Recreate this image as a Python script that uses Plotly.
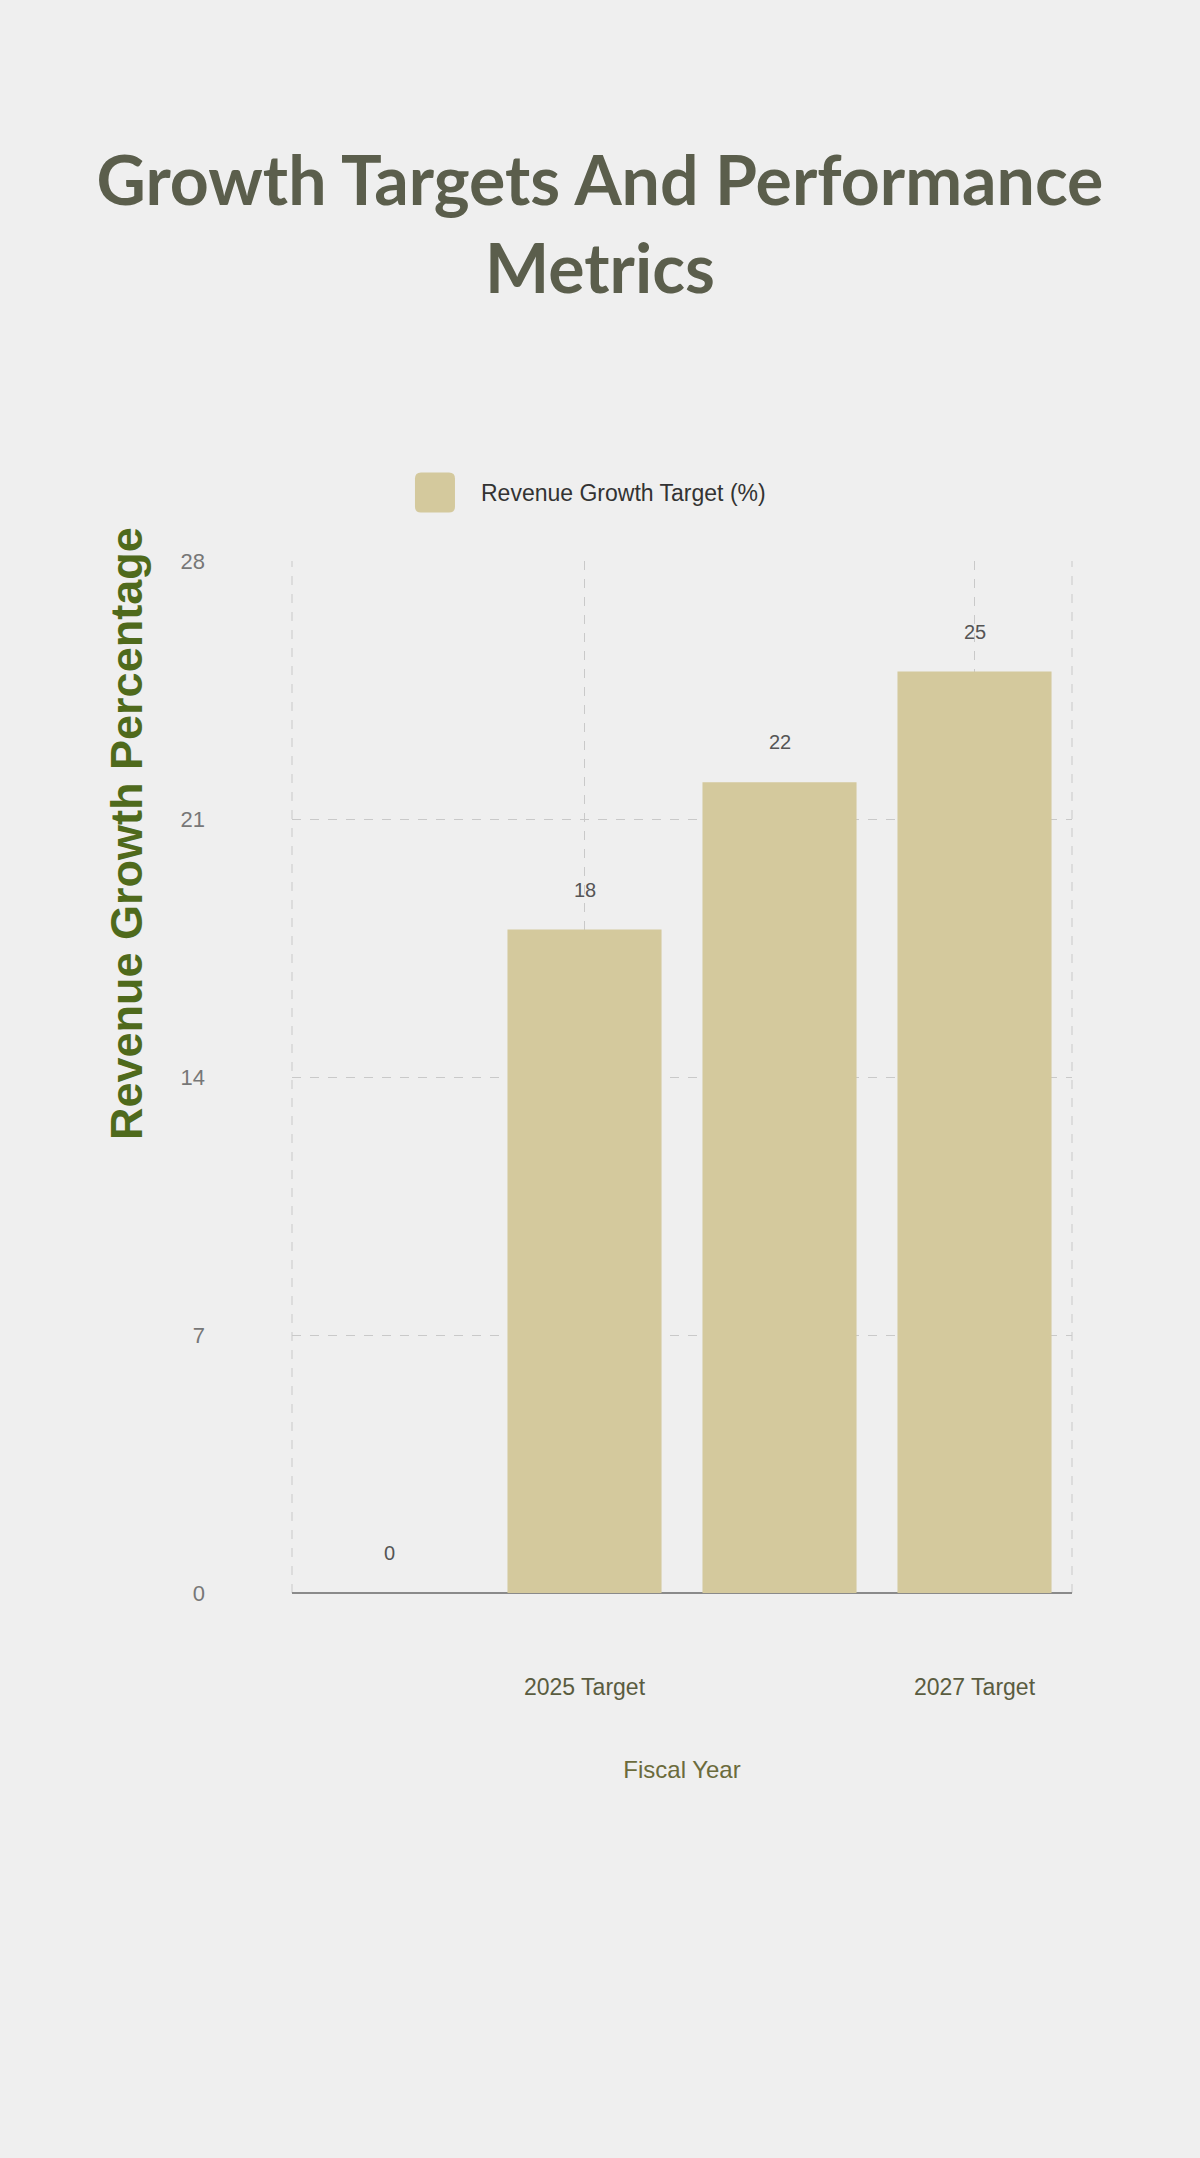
import plotly.graph_objects as go

# -----------------------------
# Data
# -----------------------------
years = ["2024 Baseline", "2025 Target", "2026 Target", "2027 Target"]
growth_target = [0, 18, 22, 25]
shown_years = ["2025 Target", "2027 Target"]
y_ticks = [0, 7, 14, 21, 28]

bar_color = "#d4c99d"
grid_color = "#c9c9c9"
base_font = "Liberation Sans, Arial"

fig = go.Figure()
fig.add_trace(go.Bar(
    x=years,
    y=growth_target,
    marker_color=bar_color,
    marker_line_width=0,
    name="Revenue Growth Target (%)",
    showlegend=False,
))

# value labels sit a bit above each bar
for yr, val in zip(years, growth_target):
    fig.add_annotation(
        x=yr, y=val, text=str(val), showarrow=False,
        yshift=40, font=dict(family=base_font, size=20, color="#555555"),
    )

# custom legend (big rounded swatch)
fig.add_shape(
    type="path", xref="paper", yref="paper",
    xsizemode="pixel", ysizemode="pixel",
    xanchor=0.1833, yanchor=1.0663,
    path="M -14,-20 L 14,-20 Q 20,-20 20,-14 L 20,14 Q 20,20 14,20 L -14,20 "
         "Q -20,20 -20,14 L -20,-14 Q -20,-20 -14,-20 Z",
    fillcolor=bar_color, line_width=0,
)
fig.add_annotation(
    xref="paper", yref="paper", x=0.2397, y=1.0663,
    xanchor="left", yanchor="middle", showarrow=False,
    text="Revenue Growth Target (%)",
    font=dict(family=base_font, size=23, color="#333333"),
)

# y axis title (sits above the axis centre in the original)
fig.add_annotation(
    xref="paper", yref="paper", x=-0.2115, y=0.7355,
    xanchor="center", yanchor="middle", showarrow=False, textangle=-90,
    text="<b>Revenue Growth Percentage</b>",
    font=dict(family=base_font, size=45, color="#4f6a1c"),
)

# dashed plot borders left / right
for xb in [0, 1]:
    fig.add_shape(type="line", xref="paper", yref="paper", x0=xb, x1=xb, y0=0, y1=1,
                  line=dict(color=grid_color, width=1, dash="dash"), layer="below")

fig.update_layout(
    width=1200,
    height=2158,
    paper_bgcolor="#efefef",
    plot_bgcolor="rgba(0,0,0,0)",
    margin=dict(l=292, r=128, t=561, b=565),
    bargap=0.21,
    title=dict(
        text="Growth Targets And Performance<br>Metrics",
        x=0.5, xanchor="center",
        y=0.905, yanchor="middle",
        font=dict(family="Lato", size=68, color="#5b5e4c", weight="bold"),
    ),
    xaxis=dict(
        type="category",
        range=[-0.5, 3.5],
        tickvals=shown_years,
        showgrid=True, gridcolor=grid_color, griddash="dash", gridwidth=1,
        ticks="", ticklabelstandoff=78,
        tickfont=dict(family=base_font, size=23, color="#5a5c40"),
        title=dict(text="Fiscal Year", standoff=62,
                   font=dict(family=base_font, size=24, color="#6b6b3c")),
        showline=False, zeroline=False,
    ),
    yaxis=dict(
        range=[0, 28],
        tickvals=y_ticks,
        showgrid=True, gridcolor=grid_color, griddash="dash", gridwidth=1,
        zeroline=True, zerolinecolor="#8a8a8a", zerolinewidth=2,
        ticks="", ticklabelstandoff=86,
        tickfont=dict(family=base_font, size=22, color="#777777"),
    ),
)

fig.write_html("out.html", config={"displayModeBar": False},
               post_script="document.body.style.margin='0';")
